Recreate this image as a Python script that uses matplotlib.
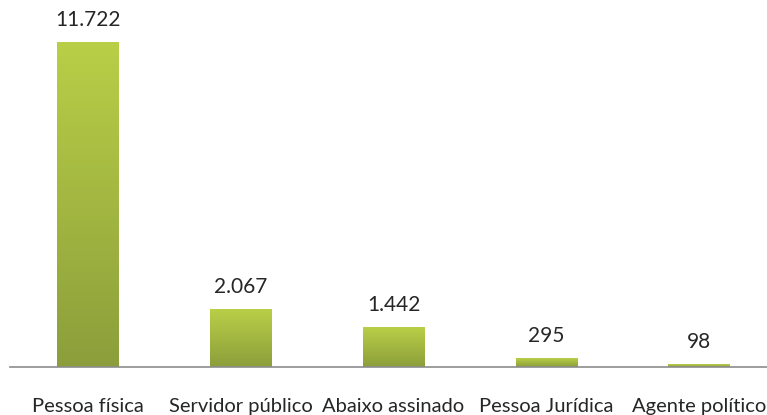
import numpy as np
import matplotlib
matplotlib.use("Agg")
import matplotlib.pyplot as plt
from matplotlib.colors import LinearSegmentedColormap

# Dados do gráfico
categorias = ["Pessoa física", "Servidor público", "Abaixo assinado", "Pessoa Jurídica", "Agente político"]
valores = [11722, 2067, 1442, 295, 98]
rotulos = ["11.722", "2.067", "1.442", "295", "98"]

plt.rcParams['font.family'] = ['Lato', 'DejaVu Sans']

fig = plt.figure(figsize=(7.67, 4.15), dpi=100)
ax = fig.add_axes([10 / 767, 48 / 415, 757 / 767, 367 / 415])

largura = 0.40
ax.set_xlim(-0.51, 4.445)
ax.set_ylim(0, 13250)

# Degradê vertical das barras (verde claro em cima, oliva embaixo)
cmap = LinearSegmentedColormap.from_list("verde", ["#8c9e3b", "#b9cf47"])
grad = np.linspace(0, 1, 256).reshape(-1, 1)

barras = ax.bar(range(len(valores)), valores, width=largura, color="none", edgecolor="none")
for b in barras:
    x0, y0 = b.get_x(), b.get_y()
    w, h = b.get_width(), b.get_height()
    ax.imshow(grad, cmap=cmap, origin="lower", aspect="auto",
              extent=[x0, x0 + w, y0, y0 + h], zorder=2)

for i, (v, r) in enumerate(zip(valores, rotulos)):
    ax.annotate(r, (i, v), xytext=(0, 9), textcoords="offset points",
                ha="center", va="bottom", fontsize=15, color="#262626")

ax.set_xticks(range(len(categorias)))
ax.set_xticklabels(categorias, fontsize=14.5, color="#262626")
ax.tick_params(axis="x", length=0, pad=22)
ax.set_yticks([])

for lado in ["top", "right", "left"]:
    ax.spines[lado].set_visible(False)
ax.spines["bottom"].set_color("#8c8c8c")
ax.spines["bottom"].set_linewidth(1.2)

fig.savefig("out.png", dpi=100)
